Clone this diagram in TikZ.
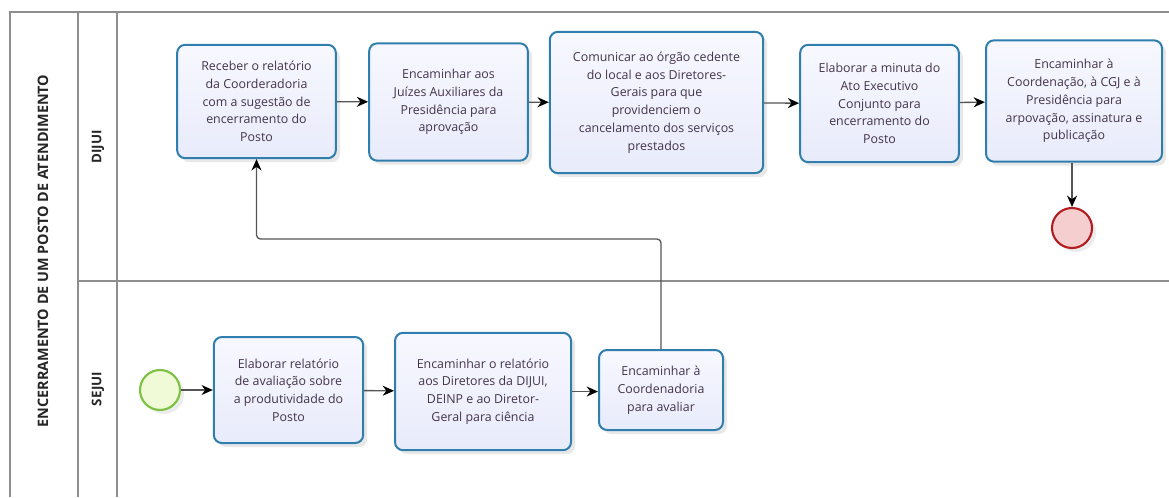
\documentclass[tikz,border=0pt]{standalone}
\usepackage{fontspec}
\setmainfont{Open Sans}
\usepackage{xcolor}
\usepackage{tikz}
\usetikzlibrary{arrows.meta,shadows}
\definecolor{lane}{HTML}{8E8E8E}
\definecolor{taskline}{HTML}{2F7EAE}
\definecolor{tasktop}{HTML}{F7F8FF}
\definecolor{taskbot}{HTML}{E8EBFA}
\definecolor{tasktext}{HTML}{45344D}
\definecolor{flowline}{HTML}{555555}
\definecolor{startline}{HTML}{7CC242}
\definecolor{startfill}{HTML}{F1FAD6}
\definecolor{endline}{HTML}{B01E22}
\definecolor{endfill}{HTML}{F5CFD0}
\tikzset{
  pool/.style={draw=lane, line width=1.1pt},
  lanelab/.style={rotate=90, font=\bfseries\fontsize{10}{12}\selectfont, text=black!85},
  task/.style={draw=taskline, line width=1.5pt, rounded corners=6pt,
    top color=tasktop, bottom color=taskbot, text=tasktext, align=center,
    font=\fontsize{9.3}{13.3}\selectfont, inner sep=2pt,
    drop shadow={opacity=0.18, shadow xshift=3pt, shadow yshift=-3pt}},
  startev/.style={circle, draw=startline, fill=startfill, line width=1.6pt,
    minimum size=30pt, inner sep=0pt,
    drop shadow={opacity=0.15, shadow xshift=3pt, shadow yshift=-3pt}},
  endev/.style={circle, draw=endline, fill=endfill, line width=1.6pt,
    minimum size=30pt, inner sep=0pt,
    drop shadow={opacity=0.15, shadow xshift=3pt, shadow yshift=-3pt}},
  flow/.style={draw=flowline, line width=1pt,
    -{Stealth[length=8.5pt, width=7.5pt, color=black]}}
}

\begin{document}
\begin{tikzpicture}[x=0.75pt, y=-0.75pt]
  \useasboundingbox (0,0) rectangle (1169,497);

  % pool and lanes
  \draw[pool] (10,497) -- (10,12) -- (1169,12);
  \draw[pool] (78,12) -- (78,497);
  \draw[pool] (117,12) -- (117,497);
  \draw[pool] (78,281) -- (1169,281);
  \node[lanelab, font=\bfseries\fontsize{10.8}{12}\selectfont] (pooltitle) at (43,251)
    {ENCERRAMENTO DE UM POSTO DE ATENDIMENTO};
  \node[lanelab] (dijui) at (98,147) {DIJUI};
  \node[lanelab] (sejui) at (98,389) {SEJUI};

  % DIJUI lane
  \node[task, minimum width=119pt, minimum height=85pt] (receber) at (256.5,101.5)
    {Receber o relatório\\da Coorderadoria\\com a sugestão de\\encerramento do\\Posto};
  \node[task, minimum width=119pt, minimum height=88pt] (juizes) at (448.5,102)
    {Encaminhar aos\\Juízes Auxiliares da\\Presidência para\\aprovação};
  \node[task, minimum width=160pt, minimum height=106pt] (comunicar) at (656.5,102.5)
    {Comunicar ao órgão cedente\\do local e aos Diretores-\\Gerais para que\\providenciem o\\cancelamento dos serviços\\prestados};
  \node[task, minimum width=119pt, minimum height=88pt] (minuta) at (879.5,103.5)
    {Elaborar a minuta do\\Ato Executivo\\Conjunto para\\encerramento do\\Posto};
  \node[task, minimum width=132pt, minimum height=91pt] (coordenacao) at (1074,101)
    {Encaminhar à\\Coordenação, à CGJ e à\\Presidência para\\arpovação, assinatura e\\publicação};
  \node[endev] (fim) at (1072,228) {};

  % SEJUI lane
  \node[startev] (inicio) at (160,390) {};
  \node[task, minimum width=112pt, minimum height=79.5pt] (avaliacao) at (288.5,390)
    {Elaborar relatório\\de avaliação sobre\\a produtividade do\\Posto};
  \node[task, minimum width=132pt, minimum height=88pt] (diretores) at (483,391.5)
    {Encaminhar o relatório\\aos Diretores da DIJUI,\\DEINP e ao Diretor-\\Geral para ciência};
  \node[task, minimum width=93pt, minimum height=60pt] (coordenadoria) at (661,390)
    {Encaminhar à\\Coordenadoria\\para avaliar};

  % flows
  \draw[flow] (inicio) -- (avaliacao);
  \draw[flow] (avaliacao) -- (diretores);
  \draw[flow] (diretores.east) -- (coordenadoria.west |- diretores.east);
  \coordinate (volta) at (455,239);
  \draw[flow, rounded corners=3pt] (coordenadoria.north) |- (volta) -| (receber.south);
  \draw[flow] (receber) -- (juizes);
  \draw[flow] (juizes) -- (comunicar);
  \draw[flow] (comunicar) -- (minuta);
  \draw[flow] (minuta) -- (coordenacao);
  \draw[flow] (coordenacao.south -| fim) -- (fim);
\end{tikzpicture}
\end{document}
